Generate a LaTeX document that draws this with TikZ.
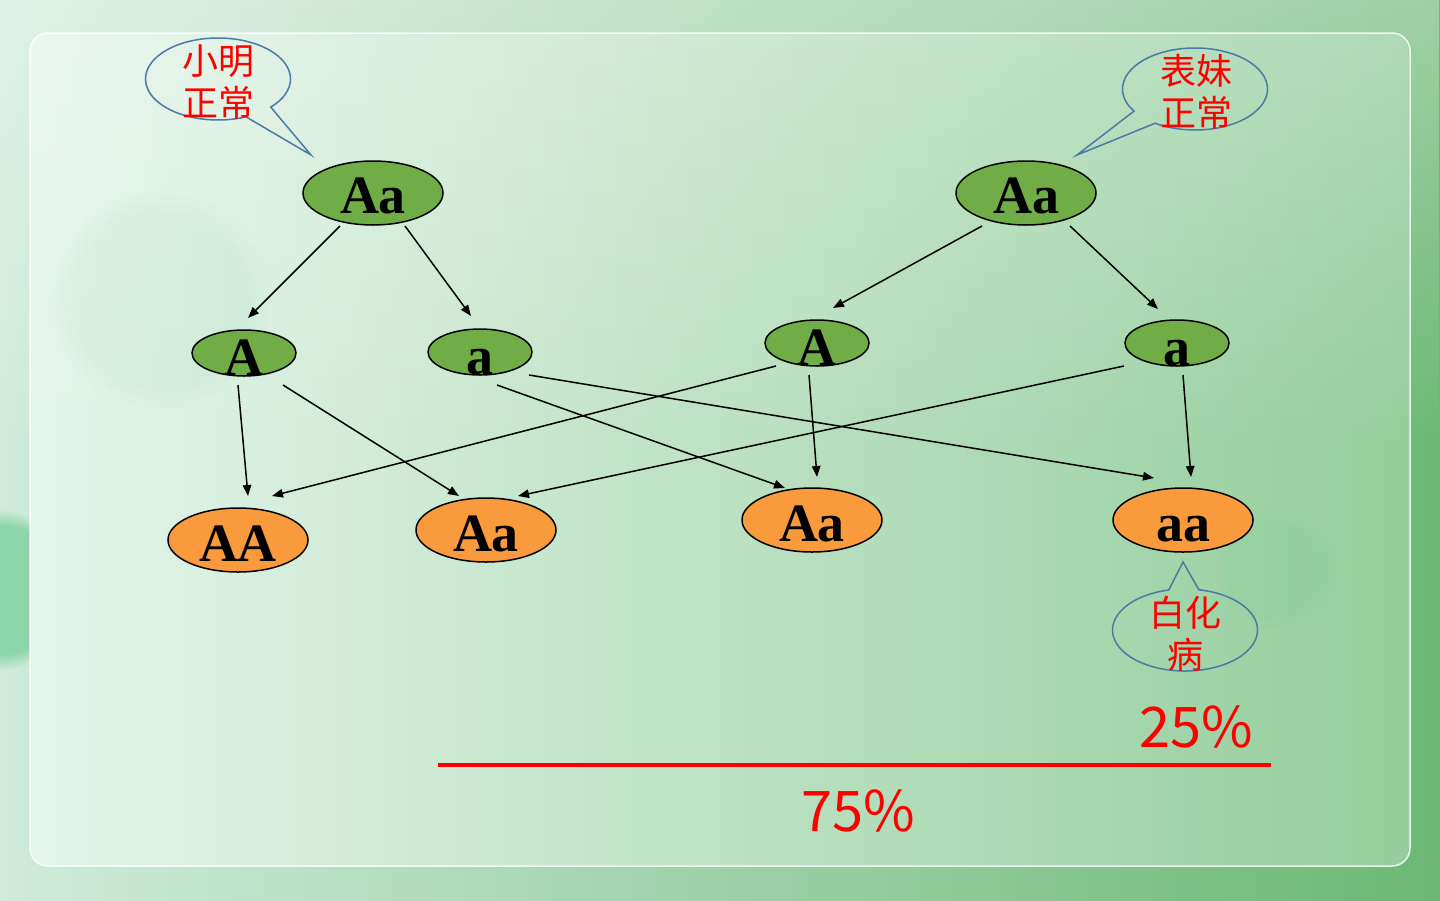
\documentclass[tikz,border=0pt]{standalone}
\usepackage{fontspec}
\setmainfont{Liberation Serif}
\newfontfamily\cjk{Noto Sans CJK SC}
\usetikzlibrary{shapes.geometric,shapes.callouts,arrows.meta,calc,fadings}
\definecolor{gfill}{HTML}{70AD47}
\definecolor{ofill}{HTML}{F99B3C}
\definecolor{cblue}{HTML}{4A7AA8}
\definecolor{bgL}{HTML}{CFEBDB}
\definecolor{bgR}{HTML}{6CB874}
\definecolor{pnL}{HTML}{E4F5EB}
\definecolor{pnM}{HTML}{C9E8D1}
\definecolor{pnR}{HTML}{95CE9C}
\definecolor{blob}{HTML}{4FC27F}
\begin{document}
\begin{tikzpicture}[x=1pt,y=-1pt,
  gen/.style={ellipse, draw=black, line width=1.5pt, inner sep=0pt,
    font=\bfseries\fontsize{54}{54}\selectfont, text depth=0pt},
  par/.style={gen, fill=gfill, minimum width=140pt, minimum height=64pt, text height=40pt},
  gam/.style={gen, fill=gfill, minimum width=104pt, minimum height=46pt, text height=32pt},
  off/.style={gen, fill=ofill, minimum width=140pt, minimum height=64pt, text height=42pt},
  arr/.style={line width=1.5pt, -{Triangle[length=11pt,width=8.5pt]}},
  call/.style={ellipse callout, draw=cblue, line width=1.5pt, minimum width=145pt, minimum height=82pt, callout pointer arc=24},
  cjktext/.style={font=\cjk\fontsize{36}{42}\selectfont, text=red, align=center, inner sep=0pt},
  pct/.style={font=\cjk\fontsize{56}{56}\selectfont, text=red, inner sep=0pt},
  redline/.style={red, line width=4pt}]
\useasboundingbox (0,0) rectangle (1440,900);
% background
\shade[left color=bgL, right color=bgR] (0,0) rectangle (1440,900);
\fill[white, opacity=0.35, path fading=south] (0,0) rectangle (1440,450);
\fill[blob, opacity=0.5, path fading=circle with fuzzy edge 20 percent] (0,590) circle (80);
% panel
\shade[rounded corners=18pt, left color=pnL, middle color=pnM, right color=pnR] (30,33) rectangle (1410,866);
\fill[white, opacity=0.25, path fading=south, rounded corners=18pt] (30,33) rectangle (1410,450);
\fill[blob, opacity=0.07, path fading=circle with fuzzy edge 20 percent] (160,300) circle (110);
\fill[blob, opacity=0.08, path fading=circle with fuzzy edge 20 percent] (1275,570) circle (60);
\draw[white, opacity=0.85, line width=1.5pt, rounded corners=18pt] (30,33) rectangle (1410,866);

% genotype nodes
\node[par] (pL) at (373,193) {Aa};
\node[par] (pR) at (1026,193) {Aa};
\node[gam] (gA1) at (244,353) {\lower6pt\hbox{A}};
\node[gam] (ga1) at (480,352) {\lower6pt\hbox{a}};
\node[gam] (gA2) at (817,343) {\lower6pt\hbox{A}};
\node[gam] (ga2) at (1177,343) {\lower6pt\hbox{a}};
\node[off] (oAA) at (238,540) {AA};
\node[off] (oAa1) at (486,530) {Aa};
\node[off] (oAa2) at (812,520) {Aa};
\node[off] (oaa) at (1183,520) {aa};

% arrows
\draw[arr] ($(pL)+(-33,33)$) -- ($(gA1)+(4,-35)$);
\draw[arr] ($(pL)+(32,33)$) -- ($(ga1)+(-9,-36)$);
\draw[arr] ($(pR)+(-44,33)$) -- ($(gA2)+(16,-35)$);
\draw[arr] ($(pR)+(44,33)$) -- ($(ga2)+(-19,-34)$);
\draw[arr] ($(gA1)+(-6,32)$) -- ($(oAA)+(10,-44)$);
\draw[arr] ($(gA1)+(39,32)$) -- ($(oAa1)+(-27,-34)$);
\draw[arr] ($(ga1)+(17,33)$) -- ($(oAa2)+(-27,-32)$);
\draw[arr] ($(ga1)+(49,23)$) -- ($(oaa)+(-29,-42)$);
\draw[arr] ($(gA2)+(-41,23)$) -- ($(oAA)+(34,-44)$);
\draw[arr] ($(gA2)+(-8,32)$) -- ($(oAa2)+(5,-43)$);
\draw[arr] ($(ga2)+(-53,23)$) -- ($(oAa1)+(32,-34)$);
\draw[arr] ($(ga2)+(6,32)$) -- ($(oaa)+(8,-43)$);

% callouts
\node[call, callout absolute pointer={(311,155)}] (c1) at (218,79) {};
\node[call, callout absolute pointer={(1077,155)}] (c2) at (1195,89) {};
\node[call, callout absolute pointer={(1183,562)}] (c3) at (1185,630) {};
\node[cjktext] (t1) at (218,82) {小明\\正常};
\node[cjktext] (t2) at (1196,92) {表妹\\正常};
\node[cjktext] (t3) at (1185,634) {白化\\病};

% percentages
\node[pct] (p25) at (1196,727) {25\%};
\coordinate (l1) at (438,765);
\coordinate (l2) at (1271,765);
\draw[redline] (l1) -- (l2);
\node[pct] (p75) at (858,811) {75\%};
\end{tikzpicture}
\end{document}
